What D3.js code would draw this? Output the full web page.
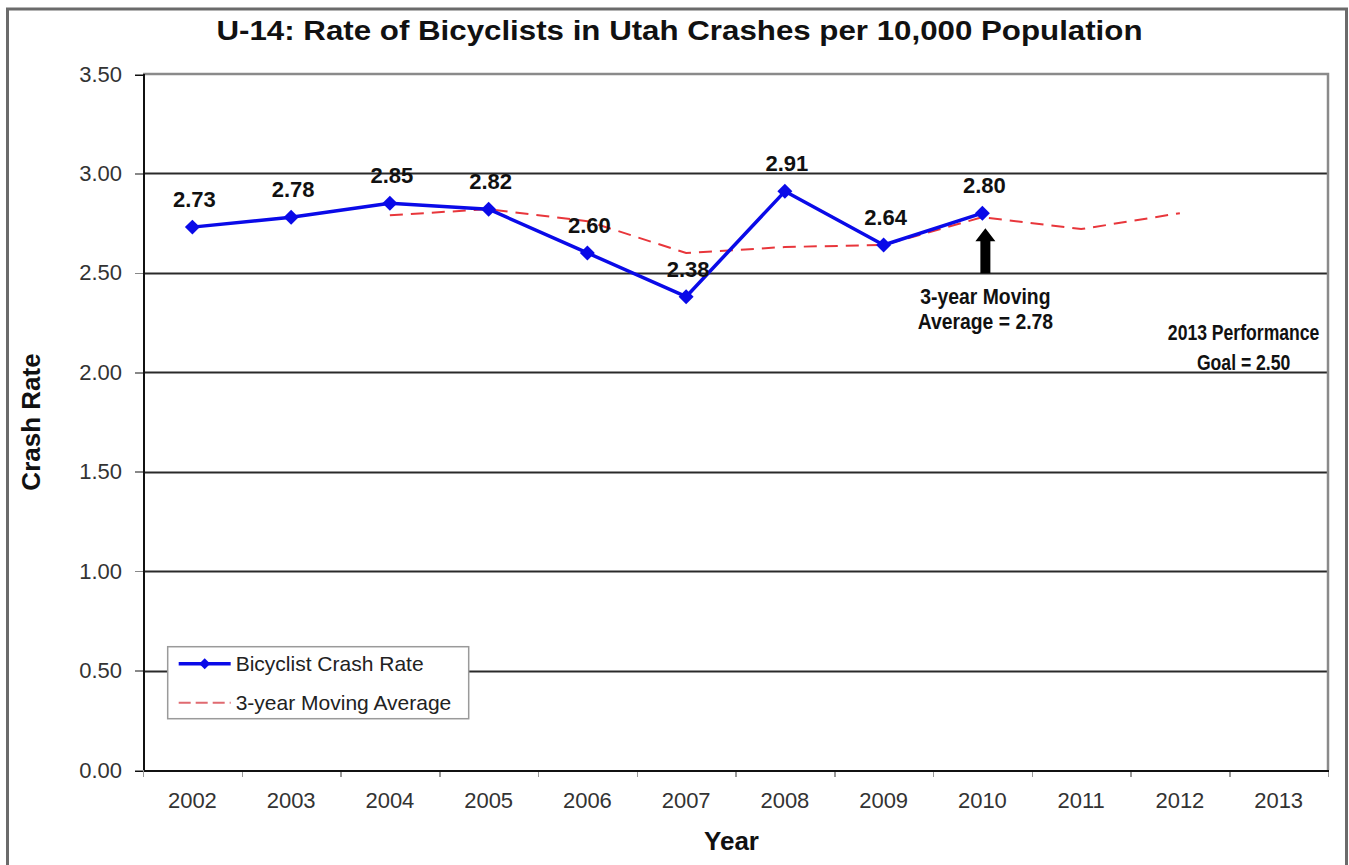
<!DOCTYPE html>
<html>
<head>
<meta charset="utf-8">
<script src="https://cdn.jsdelivr.net/npm/d3@7"></script>
<style>
	body { margin: 0; background: #fff; }
	svg { display: block; font-family: "Liberation Sans", Arial, sans-serif; }
	.axis path, .axis line { shape-rendering: crispEdges; }
</style>
</head>
<body>
<div id="chart"></div>
<script>

var years = ["2002", "2003", "2004", "2005", "2006", "2007", "2008", "2009", "2010", "2011", "2012", "2013"];
var crashYears = ["2002", "2003", "2004", "2005", "2006", "2007", "2008", "2009", "2010"];
var crashRate = [2.73, 2.78, 2.85, 2.82, 2.60, 2.38, 2.91, 2.64, 2.80];
var avgYears = ["2004", "2005", "2006", "2007", "2008", "2009", "2010", "2011", "2012"];
var movingAvg = [2.79, 2.82, 2.76, 2.60, 2.63, 2.64, 2.78, 2.72, 2.80];
var yTicks = [0, 0.5, 1.0, 1.5, 2.0, 2.5, 3.0, 3.5];


var W = 1349, H = 865,
	margins = {top: 74, bottom: 95, left: 143, right: 21},
	width = W - margins.left - margins.right,
	height = H - margins.top - margins.bottom;

var svg = d3.select("#chart")
	.append("svg")
		.attr("width", W)
		.attr("height", H);

// outer frame
svg.append("rect")
	.attr("x", 7.5).attr("y", 9)
	.attr("width", 1339).attr("height", 900)
	.attr("fill", "none")
	.attr("stroke", "#6b6b6b")
	.attr("stroke-width", 3);

var g = svg.append("g")
	.attr("transform", "translate(" + margins.left + "," + margins.top + ")");

var xBand = d3.scaleBand().domain(years).range([0, width]);
var xEdge = d3.scaleLinear().domain([0, years.length]).range([0, width]);
var yScale = d3.scaleLinear().domain([0, 3.5]).range([height, 0]);

var xMid = function(d) { return xBand(d) + xBand.bandwidth() / 2; };


// grid lines
g.append("g")
	.selectAll("line")
	.data(yTicks.filter(function(d) { return d > 0 && d < 3.5; }))
	.enter().append("line")
		.attr("x1", 0).attr("x2", width)
		.attr("y1", function(d) { return Math.round(yScale(d)) + 0.5; })
		.attr("y2", function(d) { return Math.round(yScale(d)) + 0.5; })
		.attr("stroke", "#2a2a2a")
		.attr("stroke-width", 2);

// plot border top / right
g.append("path")
	.attr("d", "M0," + yScale(3.5) + "H" + width + "V" + height)
	.attr("fill", "none")
	.attr("stroke", "#8a8a8a")
	.attr("stroke-width", 2.5);


var yAxis = d3.axisLeft(yScale).tickValues(yTicks).tickSize(8).tickPadding(13).tickFormat(d3.format(".2f"));

g.append("g")
	.attr("class", "y axis")
	.call(yAxis)
	.call(function(a) {
		a.select(".domain").attr("stroke", "#111").attr("stroke-width", 2);
		a.selectAll(".tick line").attr("stroke", "#888").attr("stroke-width", 1.5);
		a.selectAll("text").attr("font-size", 22).attr("fill", "#333").attr("font-family", null);
	});

g.append("g")
	.attr("class", "x axis ticks")
	.attr("transform", "translate(0," + height + ")")
	.call(d3.axisBottom(xEdge).ticks(years.length).tickSize(7).tickFormat(""))
	.call(function(a) {
		a.select(".domain").remove();
		a.selectAll(".tick line").attr("stroke", "#999").attr("stroke-width", 1.5);
	});

g.append("g")
	.attr("class", "x axis")
	.attr("transform", "translate(0," + height + ")")
	.call(d3.axisBottom(xBand).tickSize(0).tickPadding(22))
	.call(function(a) {
		a.select(".domain").attr("stroke", "#111").attr("stroke-width", 2);
		a.selectAll("text").attr("font-size", 22).attr("fill", "#333").attr("font-family", null);
	});


// moving average
var avgLine = d3.line()
	.x(function(d, i) { return xMid(avgYears[i]); })
	.y(function(d) { return yScale(d); });

g.append("path")
	.datum(movingAvg)
	.attr("d", avgLine)
	.attr("fill", "none")
	.attr("stroke", "#e8363b")
	.attr("stroke-width", 2)
	.attr("stroke-dasharray", "13,8");

// crash rate
var rateLine = d3.line()
	.x(function(d, i) { return xMid(crashYears[i]); })
	.y(function(d) { return yScale(d); });

g.append("path")
	.datum(crashRate)
	.attr("d", rateLine)
	.attr("fill", "none")
	.attr("stroke", "#0a0ae8")
	.attr("stroke-width", 3.5)
	.attr("stroke-linejoin", "round");

var diamond = d3.symbol().type(d3.symbolSquare).size(112);

g.append("g")
	.selectAll("path")
	.data(crashRate)
	.enter().append("path")
		.attr("d", diamond)
		.attr("transform", function(d, i) { return "translate(" + xMid(crashYears[i]) + "," + yScale(d) + ") rotate(45)"; })
		.attr("fill", "#0a0ae8");

g.append("g")
	.selectAll("text")
	.data(crashRate)
	.enter().append("text")
		.attr("x", function(d, i) { return xMid(crashYears[i]) + 2; })
		.attr("y", function(d) { return yScale(d) - 20; })
		.attr("text-anchor", "middle")
		.attr("font-size", 22)
		.attr("font-weight", "bold")
		.attr("fill", "#111")
		.text(function(d) { return d3.format(".2f")(d); });


// arrow to the 2010 moving average
var ax = xMid("2010") + 3,
	ay = yScale(crashRate[8]) + 15;

g.append("path")
	.attr("d", "M" + ax + "," + ay + "l10,13h-5v32h-10v-32h-5z")
	.attr("fill", "#000");

// condensed bold notes (no narrow font installed, so squeeze horizontally)
g.append("text")
	.attr("transform", "translate(" + ax + "," + (ay + 76) + ") scale(0.88,1)")
	.attr("text-anchor", "middle")
	.attr("font-size", 22)
	.attr("font-weight", "bold")
	.attr("fill", "#111")
	.call(function(t) {
		t.append("tspan").attr("x", 0).text("3-year Moving");
		t.append("tspan").attr("x", 0).attr("dy", 25).text("Average = " + d3.format(".2f")(movingAvg[6]));
	});

var gx = xMid("2013") - 35;

g.append("text")
	.attr("transform", "translate(" + gx + "," + yScale(2.16) + ") scale(0.8,1)")
	.attr("text-anchor", "middle")
	.attr("font-size", 22)
	.attr("font-weight", "bold")
	.attr("fill", "#111")
	.call(function(t) {
		t.append("tspan").attr("x", 0).text("2013 Performance");
		t.append("tspan").attr("x", 0).attr("dy", 30).text("Goal = 2.50");
	});


// legend
var legend = g.append("g")
	.attr("transform", "translate(" + (xEdge(0.25)) + "," + (yScale(0.62)) + ")");

legend.append("rect")
	.attr("width", 301).attr("height", 72)
	.attr("fill", "#fff")
	.attr("stroke", "#9a9a9a")
	.attr("stroke-width", 1.5);

legend.append("line")
	.attr("x1", 11).attr("x2", 63).attr("y1", 17).attr("y2", 17)
	.attr("stroke", "#0a0ae8").attr("stroke-width", 3.5);

legend.append("path")
	.attr("d", d3.symbol().type(d3.symbolSquare).size(60))
	.attr("transform", "translate(37,17) rotate(45)")
	.attr("fill", "#0a0ae8");

legend.append("line")
	.attr("x1", 11).attr("x2", 63).attr("y1", 56).attr("y2", 56)
	.attr("stroke", "#e06a70").attr("stroke-width", 2)
	.attr("stroke-dasharray", "12,5");

legend.selectAll("text")
	.data(["Bicyclist Crash Rate", "3-year Moving Average"])
	.enter().append("text")
		.attr("x", 68)
		.attr("y", function(d, i) { return i ? 56 : 17; })
		.attr("dy", "0.35em")
		.attr("font-size", 21)
		.attr("fill", "#222")
		.text(function(d) { return d; });


// titles
svg.append("text")
	.attr("x", 679.5).attr("y", 40)
	.attr("text-anchor", "middle")
	.attr("font-size", 27)
	.attr("font-weight", "bold")
	.attr("fill", "#111")
	.attr("textLength", 926)
	.attr("lengthAdjust", "spacingAndGlyphs")
	.text("U-14: Rate of Bicyclists in Utah Crashes per 10,000 Population");

svg.append("text")
	.attr("transform", "translate(40," + (margins.top + height / 2) + ") rotate(-90)")
	.attr("text-anchor", "middle")
	.attr("font-size", 26)
	.attr("font-weight", "bold")
	.attr("fill", "#111")
	.text("Crash Rate");

svg.append("text")
	.attr("x", margins.left + width / 2 - 4).attr("y", 850)
	.attr("text-anchor", "middle")
	.attr("font-size", 26)
	.attr("font-weight", "bold")
	.attr("fill", "#111")
	.text("Year");

</script>
</body>
</html>
